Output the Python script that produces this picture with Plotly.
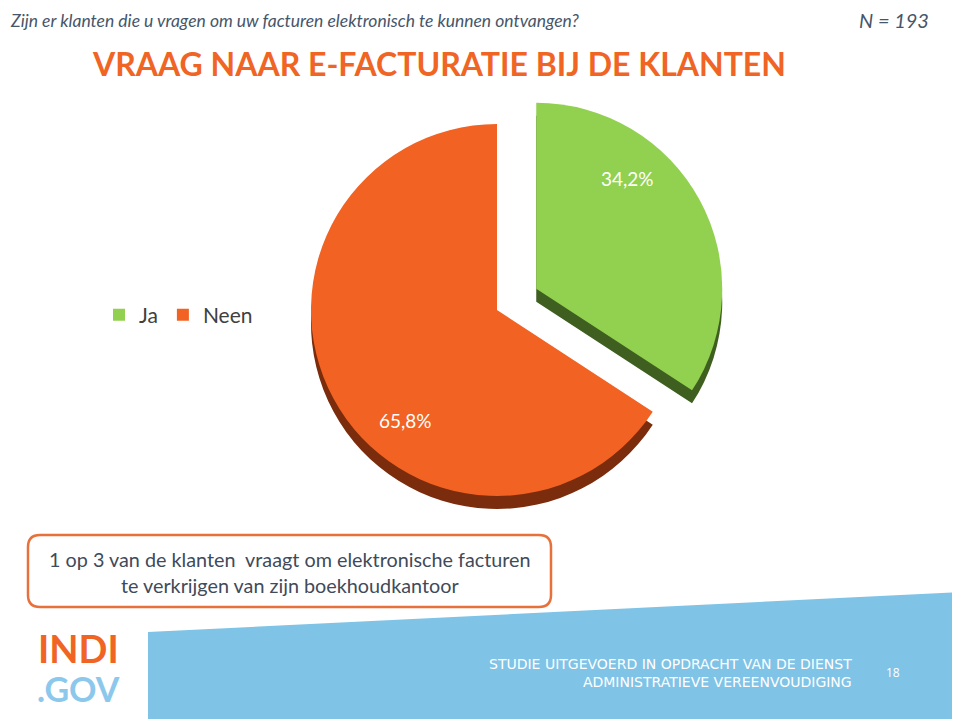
import math
import plotly.graph_objects as go

# data
labels = ["Ja", "Neen"]
values = [34.2, 65.8]
colors = ["#92D050", "#F26222"]
side_colors = ["#3F5F20", "#7A2C0C"]   # darker rim for the 3d look
pull = [0.24, 0]

# the page body has an 8px margin, so the figure is 8px smaller and shifted
OFF = 8
W, H = 960 - OFF, 719 - OFF


def px(x):
    return (x - OFF) / W


def py(y):
    return 1 - (y - OFF) / H


# pie placement (reference pixels)
cx, cy, r = 497, 310, 186
half = r * (1 + max(pull))
dom_x = [px(cx - half), px(cx + half)]
dom_y = [py(cy + half), py(cy - half)]
depth = 13 / H

fig = go.Figure()

# rim / depth layer, slightly lower
fig.add_trace(go.Pie(
    labels=labels, values=values, sort=False, direction="clockwise", rotation=0,
    pull=pull, marker=dict(colors=side_colors, line=dict(width=0)),
    textinfo="none", hoverinfo="skip", showlegend=False,
    domain=dict(x=dom_x, y=[dom_y[0] - depth, dom_y[1] - depth]),
))

fig.add_trace(go.Pie(
    labels=labels, values=values, sort=False, direction="clockwise", rotation=0,
    pull=pull, marker=dict(colors=colors, line=dict(width=0)),
    textinfo="none", hovertemplate="%{label}: %{percent:.1%}<extra></extra>",
    domain=dict(x=dom_x, y=dom_y),
))

# percentage labels, placed from the slice angles (tilted like the original)
total = sum(values)
start = 0.0
pie_labels = []
for v, p in zip(values, pull):
    sweep = v / total * 360
    mid = math.radians(start + sweep / 2)
    lab = math.radians(start + sweep / 2 - 22)
    ox = cx + p * r * math.sin(mid)
    oy = cy - p * r * math.cos(mid)
    lx = ox + 0.77 * r * math.sin(lab)
    ly = oy - 0.77 * r * math.cos(lab)
    pie_labels.append(dict(text=("%.1f%%" % (v / total * 100)).replace(".", ","),
                           x=px(lx), y=py(ly), xanchor="center", yanchor="middle",
                           font=dict(size=19, color="white", family="Lato, Open Sans, sans-serif")))
    start += sweep

# footer band and the message box
band = "M %f,%f L 1,%f L 1,0 L %f,0 Z" % (px(148), py(632), py(592), px(148))
x0, x1, y0, y1 = px(28), px(551), py(607), py(535)
rx, ry = 12 / W, 12 / H
box = ("M %f,%f L %f,%f Q %f,%f %f,%f L %f,%f Q %f,%f %f,%f "
       "L %f,%f Q %f,%f %f,%f L %f,%f Q %f,%f %f,%f Z") % (
    x0 + rx, y0, x1 - rx, y0, x1, y0, x1, y0 + ry,
    x1, y1 - ry, x1, y1, x1 - rx, y1,
    x0 + rx, y1, x0, y1, x0, y1 - ry,
    x0, y0 + ry, x0, y0, x0 + rx, y0)

fig.update_layout(
    width=W, height=H,
    margin=dict(l=0, r=0, t=0, b=0),
    paper_bgcolor="white",
    font=dict(family="Lato, Open Sans, sans-serif"),
    legend=dict(orientation="h", x=px(99), y=py(315), yanchor="middle",
                font=dict(size=21, color="#404040"), bgcolor="rgba(0,0,0,0)"),
    shapes=[
        dict(type="path", path=band, xref="paper", yref="paper",
             fillcolor="#7FC3E6", line=dict(width=0), layer="below"),
        dict(type="path", path=box, xref="paper", yref="paper",
             fillcolor="white", line=dict(color="#E8703A", width=2.5)),
    ],
)

anns = pie_labels + [
    dict(text="<i>Zijn er klanten die u vragen om uw facturen elektronisch te kunnen ontvangen?</i>",
         x=px(8), y=py(20), xanchor="left", yanchor="middle",
         font=dict(size=17.5, color="#46566A", family="Lato, Open Sans, sans-serif")),
    dict(text="<i>N = 193</i>", x=px(931), y=py(20), xanchor="right", yanchor="middle",
         font=dict(size=20, color="#46566A", family="Lato, Open Sans, sans-serif")),
    dict(text="<b>VRAAG NAAR E-FACTURATIE BIJ DE KLANTEN</b>", x=px(90), y=py(63),
         xanchor="left", yanchor="middle",
         font=dict(size=32, color="#F06424", family="Lato, Open Sans, sans-serif")),
    dict(text="1 op 3 van de klanten  vraagt om elektronische facturen<br>te verkrijgen van zijn boekhoudkantoor",
         x=px(290), y=py(572), xanchor="center", yanchor="middle",
         font=dict(size=19.8, color="#3F4B5A", family="Lato, Open Sans, sans-serif")),
    dict(text="STUDIE UITGEVOERD IN OPDRACHT VAN DE DIENST<br>ADMINISTRATIEVE VEREENVOUDIGING",
         x=px(854), y=py(673), xanchor="right", yanchor="middle", align="right",
         font=dict(size=14, color="white", family="DejaVu Sans, sans-serif")),
    dict(text="18", x=px(893), y=py(672), xanchor="center", yanchor="middle",
         font=dict(size=12, color="white", family="Open Sans, sans-serif")),
    dict(text="<b>INDI</b>", x=px(78), y=py(648), xanchor="center", yanchor="middle",
         font=dict(size=38, color="#F06424", family="Lato, sans-serif")),
    dict(text="<b>.GOV</b>", x=px(78), y=py(688), xanchor="center", yanchor="middle",
         font=dict(size=34, color="#8CC8EC", family="Lato, sans-serif")),
]
for a in anns:
    a.update(xref="paper", yref="paper", showarrow=False)
fig.update_layout(annotations=anns)

fig.write_html("out.html")
